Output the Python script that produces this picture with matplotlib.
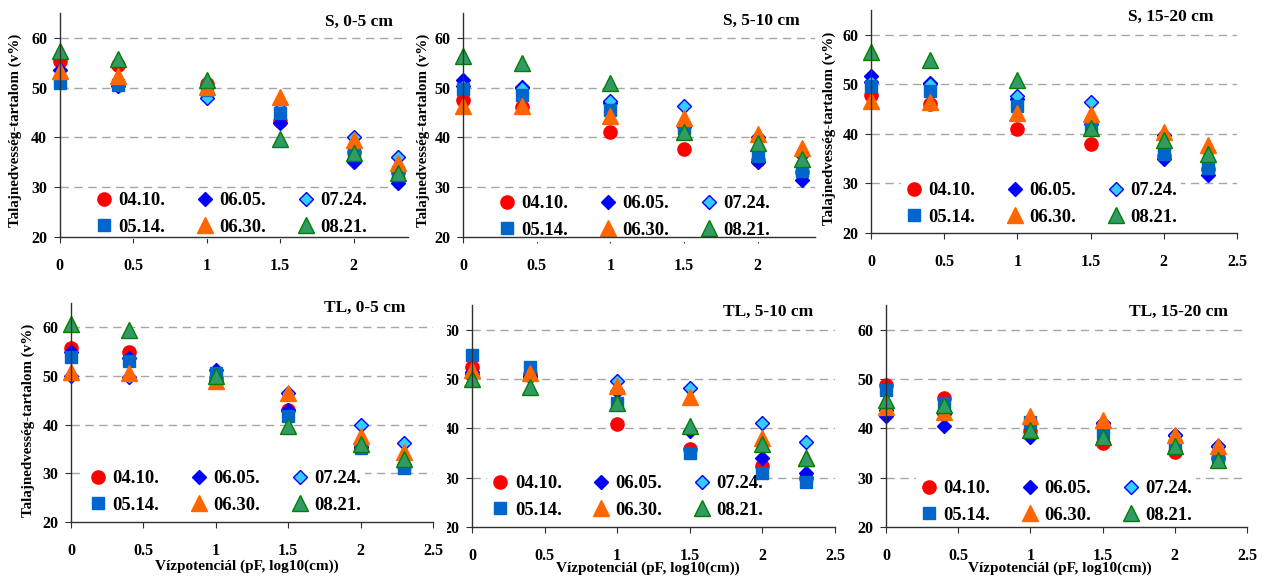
import matplotlib
matplotlib.use("Agg")
import matplotlib.pyplot as plt
from matplotlib.transforms import Bbox, TransformedBbox

W, H = 1265, 581

pf = [0, 0.4, 1, 1.5, 2, 2.3]
dates = ["04.10.", "05.14.", "06.05.", "06.30.", "07.24.", "08.21."]
titles = ["S, 0-5 cm", "S, 5-10 cm", "S, 15-20 cm",
          "TL, 0-5 cm", "TL, 5-10 cm", "TL, 15-20 cm"]
y_ticks = [20, 30, 40, 50, 60]
x_ticks = [0, 0.5, 1, 1.5, 2, 2.5]
x_tick_labels = ["0", "0.5", "1", "1.5", "2", "2.5"]

# series order: 04.10., 05.14., 06.05., 06.30., 07.24., 08.21.
s_0_5 = [
    [55.4, 54.6, 50.8, 43.3, 37.0, 33.0],
    [51.0, 50.5, 49.6, 45.0, 37.2, 33.1],
    [53.6, 50.3, 49.0, 43.0, 35.0, 30.9],
    [53.3, 52.4, 50.1, 48.1, 39.5, 34.8],
    [52.0, 51.0, 48.0, 47.0, 40.0, 36.0],
    [57.3, 55.8, 51.6, 39.6, 36.9, 32.8],
]
s_5_10 = [
    [47.6, 46.1, 41.0, 37.7, 35.5, 33.0],
    [49.7, 48.6, 45.6, 41.9, 36.2, 33.2],
    [51.6, 50.2, 47.0, 42.0, 35.0, 31.5],
    [46.4, 46.4, 44.3, 44.0, 40.6, 37.9],
    [50.4, 50.0, 47.4, 46.3, 40.0, 36.5],
    [56.3, 55.0, 51.0, 41.1, 38.9, 35.6],
]
s_15_20 = [
    [47.8, 46.1, 41.0, 37.9, 35.5, 33.0],
    [49.7, 48.6, 45.7, 41.5, 36.0, 33.1],
    [51.6, 50.3, 47.0, 42.0, 34.9, 31.8],
    [46.7, 46.4, 44.3, 44.0, 40.3, 37.7],
    [50.5, 50.0, 47.6, 46.4, 39.8, 36.5],
    [56.6, 55.0, 50.9, 41.2, 38.8, 35.9],
]
tl_0_5 = [
    [55.7, 54.9, 49.5, 43.0, 35.5, 31.5],
    [54.0, 53.0, 50.6, 41.8, 35.2, 31.1],
    [55.0, 53.7, 51.3, 43.0, 35.5, 31.5],
    [50.9, 50.6, 48.9, 46.6, 37.7, 34.3],
    [50.0, 49.7, 49.0, 46.6, 40.0, 36.2],
    [60.6, 59.5, 50.0, 39.8, 36.1, 32.9],
]
tl_5_10 = [
    [52.4, 51.0, 40.9, 35.8, 32.4, 30.0],
    [54.9, 52.4, 45.1, 35.0, 30.9, 29.1],
    [51.4, 50.7, 47.5, 39.4, 34.0, 30.9],
    [51.9, 51.2, 48.5, 46.4, 38.1, 34.0],
    [51.0, 50.5, 49.5, 48.2, 41.1, 37.2],
    [50.0, 48.4, 45.1, 40.4, 36.9, 34.0],
]
tl_15_20 = [
    [48.8, 46.1, 39.5, 37.0, 35.3, 34.0],
    [47.8, 45.1, 41.2, 39.0, 36.6, 34.2],
    [42.4, 40.5, 38.3, 41.0, 38.6, 36.5],
    [44.4, 43.4, 42.4, 41.7, 38.6, 36.5],
    [43.7, 42.9, 41.0, 41.0, 38.6, 36.5],
    [45.8, 44.7, 39.7, 38.3, 36.4, 33.6],
]
panels = [s_0_5, s_5_10, s_15_20, tl_0_5, tl_5_10, tl_15_20]

styles = [
    dict(marker="o", ms=9.5, mfc="#FF0000", mec="#FF0000", mew=1.0),
    dict(marker="s", ms=9.0, mfc="#0066CC", mec="#0066CC", mew=1.0),
    dict(marker="D", ms=7.4, mfc="#0000FF", mec="#0000FF", mew=1.0),
    dict(marker="^", ms=11, mfc="#FF6600", mec="#FF6600", mew=1.0),
    dict(marker="D", ms=7.4, mfc="#33CCFF", mec="#0000FF", mew=1.0),
    dict(marker="^", ms=11, mfc="#339966", mec="#008000", mew=1.0),
]
# drawing order (legend reading order): 04.10, 06.05, 07.24, 05.14, 06.30, 08.21
draw_z = [3.0, 3.3, 3.1, 3.4, 3.2, 3.5]

# layout in pixels: left, right, top, bottom, xmax
boxes = [
    (59.5, 408, 13, 237, 2.37),
    (463, 815, 13, 237, 2.39),
    (871, 1237, 10, 233, 2.5),
    (71, 433, 303, 522, 2.5),
    (472, 835, 305, 527, 2.5),
    (886, 1247, 305, 527, 2.5),
]
title_pos = [(393, 22), (800, 21), (1213, 17), (406, 308), (813, 312), (1228, 312)]
legend_first = [(107, 200), (510, 203), (917, 190), (101, 478), (503, 483), (932, 488)]
ylabel_pos = [(15, 130), (423, 130), (829, 128), (28, 420)]
xlabel_pos = [(247, 566), (648, 568), (1060, 568)]

SERIF = "Liberation Serif"
plt.rcParams["font.family"] = SERIF
plt.rcParams["font.weight"] = "bold"

fig = plt.figure(figsize=(W / 100, H / 100), dpi=100)
fig.patch.set_facecolor("white")


def fx(px):
    return px / W


def fy(py):
    return 1 - py / H


axes = []
for i, (data, box) in enumerate(zip(panels, boxes)):
    l, r, t, b, xmax = box
    ax = fig.add_axes([fx(l), fy(b), fx(r - l), (b - t) / H])
    ax.set_facecolor("none")
    ax.set_xlim(0, xmax)
    ax.set_ylim(20, 65)
    for sp in ["top", "right"]:
        ax.spines[sp].set_visible(False)
    for sp in ["left", "bottom"]:
        ax.spines[sp].set_color("#303030")
        ax.spines[sp].set_linewidth(1.0)
        ax.spines[sp].set_zorder(4)
    for yv in y_ticks[1:]:
        ax.axhline(yv, color="#A6A6A6", lw=1.0, ls=(0, (6, 4)), zorder=0)
    handles = []
    for series, st, lab, z in zip(data, styles, dates, draw_z):
        h, = ax.plot(pf, series, ls="none", label=lab, zorder=z, clip_on=False, **st)
        handles.append(h)
    ax.set_yticks(y_ticks)
    ax.set_yticklabels([str(v) for v in y_ticks], fontsize=11.5, fontweight="bold")
    xt = [v for v in x_ticks if v <= xmax + 1e-9]
    ax.set_xticks(xt)
    ax.set_xticklabels(x_tick_labels[:len(xt)], fontsize=11.5, fontweight="bold")
    ax.tick_params(axis="y", direction="out", length=4, pad=5, color="#303030")
    ax.tick_params(axis="x", direction="out", length=4, pad=11, color="#303030")

    tx, ty = title_pos[i]
    fig.text(fx(tx), fy(ty), titles[i], ha="right", va="center",
             fontsize=12.5, fontweight="bold", family=SERIF)

    mx, my = legend_first[i]
    leg = ax.legend(handles=handles, ncol=3, loc="center",
                    bbox_to_anchor=(fx(mx + 124), fy(my + 14)),
                    bbox_transform=fig.transFigure,
                    frameon=True, facecolor="white", edgecolor="none",
                    framealpha=1.0, fancybox=False,
                    prop=dict(family=SERIF, weight="bold", size=13.4),
                    handlelength=1.0, handletextpad=0.3, columnspacing=1.6,
                    labelspacing=0.5, borderpad=0.2, borderaxespad=0)
    leg.set_zorder(2)
    axes.append(ax)

for (px, py) in ylabel_pos:
    fig.text(fx(px), fy(py), "Talajnedvesség-tartalom (v%)", rotation=90,
             ha="center", va="center", fontsize=10.8, fontweight="bold", family=SERIF)

for (px, py) in xlabel_pos:
    fig.text(fx(px), fy(py), "Vízpotenciál (pF, log10(cm))",
             ha="center", va="center", fontsize=11, fontweight="bold", family=SERIF)

# panel 5 tick labels are partly hidden by the neighbouring crop
clip = TransformedBbox(Bbox.from_extents(fx(447), 0, 1, 1), fig.transFigure)
for lab in axes[4].get_yticklabels():
    lab.set_clip_box(clip)
    lab.set_clip_on(True)

fig.savefig("out.png", dpi=100, facecolor="white")
